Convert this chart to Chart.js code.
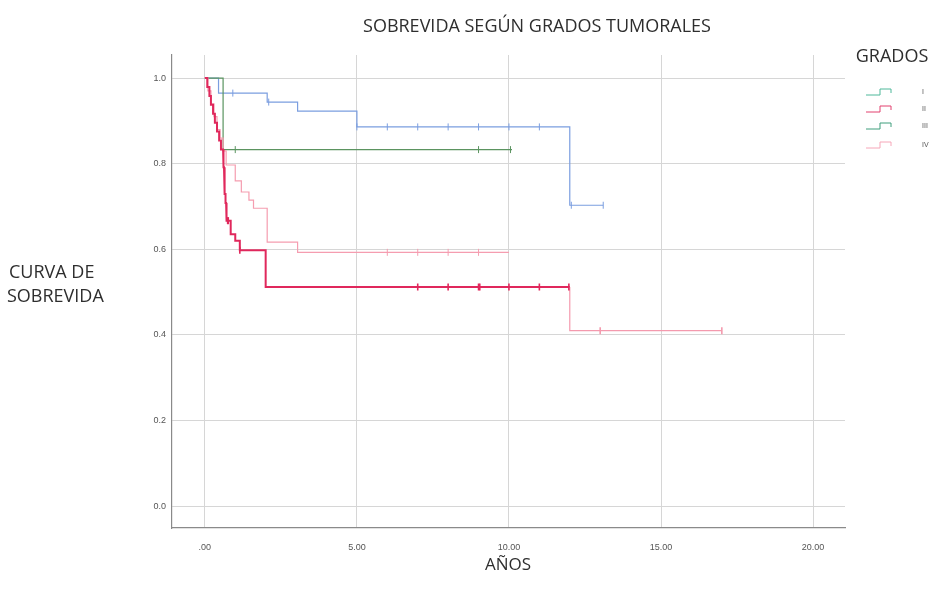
<!DOCTYPE html>
<html>
<head>
<meta charset="utf-8">
<script src="https://cdn.jsdelivr.net/npm/chart.js@4/dist/chart.umd.min.js"></script>
<style>
html,body{margin:0;padding:0;background:#fff;}
#wrap{width:934px;height:601px;position:relative;}
</style>
</head>
<body>
<div id="wrap"><canvas id="c" width="934" height="601"></canvas></div>
<script>
// ---------- DATA ----------
const chartTitle = "SOBREVIDA SEGÚN GRADOS TUMORALES";
const xTitle = "AÑOS";
const yTitle = ["CURVA DE", "SOBREVIDA"];
const legendTitle = "GRADOS";
const groupNames = ["I", "II", "III", "IV"];

const xTicks = [0, 5, 10, 15, 20];
const yTicks = [0, 0.2, 0.4, 0.6, 0.8, 1.0];

// Grade I
const gradoI_t = [0, 0.45, 2.05, 3.05, 5.0, 12.0];
const gradoI_s = [1.0, 0.965, 0.944, 0.923, 0.886, 0.703];
const gradoI_end = 13.1;
const gradoI_cens = [0.92, 2.1, 5.0, 6, 7, 8, 9, 10, 11, 12.05, 13.1];

// Grade II
const gradoII_t = [0, 0.08, 0.15, 0.2, 0.27, 0.33, 0.4, 0.47, 0.53, 0.6, 0.62, 0.63, 0.65, 0.66, 0.68, 0.7, 0.72, 0.85, 1.0, 1.15, 2.0, 12.0];
const gradoII_s = [1.0, 0.979, 0.958, 0.938, 0.917, 0.896, 0.875, 0.854, 0.833, 0.813, 0.792, 0.771, 0.75, 0.729, 0.708, 0.688, 0.667, 0.635, 0.62, 0.598, 0.512, 0.41];
const gradoII_end = 17.0;
const gradoII_cens = [0.75, 0.77, 1.15, 7, 8, 9, 9.04, 10, 11, 11.97, 13, 17];

// Grade III
const gradoIII_t = [0, 0.6];
const gradoIII_s = [1.0, 0.833];
const gradoIII_end = 10.1;
const gradoIII_cens = [1.0, 9, 10.05];

// Grade IV
const gradoIV_t = [0, 0.1, 0.2, 0.3, 0.4, 0.5, 0.6, 0.7, 1.0, 1.2, 1.45, 1.6, 2.05, 3.05];
const gradoIV_s = [1.0, 0.97, 0.94, 0.91, 0.88, 0.86, 0.83, 0.797, 0.76, 0.734, 0.715, 0.696, 0.617, 0.593];
const gradoIV_end = 10.0;
const gradoIV_cens = [6, 7, 8, 9];

// ---------- STYLE ----------
const colI = "#7b9ee0";
const colII = "#e0285c";
const colIIlate = "#f49aae";
const colIII = "#5b9460";
const colIV = "#f59db0";
const legendCols = ["#4fb89a", "#e2406e", "#3f9e7c", "#f6a6b8"];

function kmPoints(t, s, end) {
  const pts = [{x: t[0], y: s[0]}];
  for (let i = 1; i < t.length; i++) {
    pts.push({x: t[i], y: s[i - 1]});
    pts.push({x: t[i], y: s[i]});
  }
  pts.push({x: end, y: s[s.length - 1]});
  return pts;
}
function survAt(t, s, x) {
  let v = s[0];
  for (let i = 0; i < t.length; i++) { if (t[i] <= x) v = s[i]; }
  return v;
}
function censPoints(t, s, c) {
  return c.map(x => ({x: x, y: survAt(t, s, x)}));
}

const groups = [
  {t: gradoI_t, s: gradoI_s, end: gradoI_end, c: gradoI_cens, col: colI, w: 1.2, order: 4},
  {t: gradoII_t, s: gradoII_s, end: gradoII_end, c: gradoII_cens, col: colII, w: 2, order: 1},
  {t: gradoIII_t, s: gradoIII_s, end: gradoIII_end, c: gradoIII_cens, col: colIII, w: 1.2, order: 3},
  {t: gradoIV_t, s: gradoIV_s, end: gradoIV_end, c: gradoIV_cens, col: colIV, w: 1.2, order: 2}
];

const datasets = [];
groups.forEach((g, i) => {
  const isII = i === 1;
  datasets.push({
    type: 'line',
    label: groupNames[i],
    data: kmPoints(g.t, g.s, g.end),
    borderColor: g.col,
    borderWidth: g.w,
    pointRadius: 0,
    fill: false,
    tension: 0,
    order: g.order,
    segment: isII ? {
      borderColor: ctx => ctx.p0.parsed.x >= 12 ? colIIlate : colII,
      borderWidth: ctx => ctx.p0.parsed.x >= 12 ? 1.2 : 2
    } : undefined
  });
  datasets.push({
    type: 'scatter',
    label: groupNames[i] + " censurado",
    data: censPoints(g.t, g.s, g.c),
    pointStyle: 'line',
    rotation: 90,
    pointRadius: 3.5,
    pointBorderWidth: isII ? 1.6 : 1,
    pointBorderColor: isII ? (ctx => (ctx.raw && ctx.raw.x > 12) ? colIIlate : colII) : g.col,
    pointBackgroundColor: g.col,
    showLine: false,
    order: g.order - 0.5
  });
});

const textPlugin = {
  id: 'texts',
  beforeDraw(chart) {
    const c = chart.ctx;
    c.save();
    c.fillStyle = '#fff';
    c.fillRect(0, 0, chart.width, chart.height);
    c.restore();
  },
  afterDraw(chart) {
    const c = chart.ctx;
    c.save();
    c.fillStyle = '#2e2e2e';
    c.textAlign = 'center';
    c.textBaseline = 'middle';
    c.font = '18px "Open Sans"';
    c.fillText(chartTitle, 537, 27);
    c.font = '17px "Open Sans"';
    c.fillText(xTitle, 508, 565);
    c.font = '18px "Open Sans"';
    c.textAlign = 'left';
    c.fillText(yTitle[0], 9, 273);
    c.fillText(yTitle[1], 7, 297);
    c.textAlign = 'center';
    c.font = '18px "Open Sans"';
    c.fillText(legendTitle, 892, 57);
    // legend items
    const ys = [92, 109, 126, 145];
    c.lineWidth = 1;
    groupNames.forEach((n, i) => {
      const y = ys[i];
      c.strokeStyle = legendCols[i];
      c.beginPath();
      c.moveTo(866, y + 3);
      c.lineTo(880, y + 3);
      c.lineTo(880, y - 3);
      c.lineTo(891, y - 3);
      c.lineTo(891, y + 1);
      c.stroke();
      c.fillStyle = '#555';
      c.font = '7px "Liberation Sans"';
      c.textAlign = 'left';
      c.fillText(n, 922, y);
    });
    c.restore();
  }
};

new Chart(document.getElementById('c'), {
  data: {datasets: datasets},
  options: {
    responsive: false,
    animation: false,
    events: [],
    layout: {padding: {left: 132, top: 55, right: 89, bottom: 43}},
    plugins: {legend: {display: false}, tooltip: {enabled: false}, title: {display: false}},
    scales: {
      x: {
        type: 'linear',
        min: -1.08,
        max: 21.05,
        afterBuildTicks: s => { s.ticks = xTicks.map(v => ({value: v})); },
        afterFit: s => { s.height = 30; },
        grid: {color: '#d6d6d6', lineWidth: 1, drawTicks: false},
        border: {color: '#8a8a8a', width: 1.2},
        ticks: {
          padding: 14,
          font: {family: 'Liberation Sans', size: 9},
          color: '#555',
          maxRotation: 0,
          callback: v => v === 0 ? '.00' : v.toFixed(2)
        }
      },
      y: {
        type: 'linear',
        min: -0.051,
        max: 1.054,
        afterBuildTicks: s => { s.ticks = yTicks.map(v => ({value: v})); },
        afterFit: s => { s.width = 40; },
        grid: {color: '#d6d6d6', lineWidth: 1, drawTicks: false},
        border: {color: '#8a8a8a', width: 1.2},
        ticks: {
          padding: 6,
          font: {family: 'Liberation Sans', size: 9},
          color: '#555',
          callback: v => v.toFixed(1)
        }
      }
    }
  },
  plugins: [textPlugin]
});
</script>
</body>
</html>
